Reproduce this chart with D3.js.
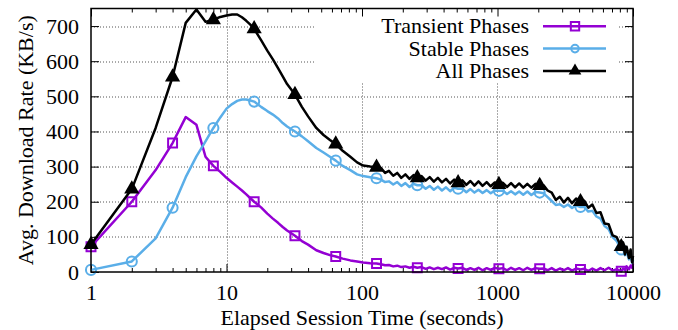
<!DOCTYPE html>
<html>
<head>
<meta charset="utf-8">
<script src="https://cdn.jsdelivr.net/npm/d3@7"></script>
<style>
  body { margin: 0; background: #fff; }
  svg { display: block; font-family: 'Liberation Serif', 'Times New Roman', serif; }
  svg text { font-family: 'Liberation Serif', 'Times New Roman', serif; }
</style>
</head>
<body>
<div id="chart"></div>
<script>
/** Data **/
const times = [
  1, 2, 3, 4, 5, 6, 7, 8, 9, 10, 11, 12, 13, 14, 15, 16, 18, 20, 22, 24, 26, 28,
  32, 36, 40, 46, 52, 58, 64, 72, 82, 92, 102, 115, 128,
  138, 148, 158, 170, 182, 195, 209, 224, 240, 256, 275, 295, 316, 339, 363,
  389, 417, 447, 479, 512, 550, 589, 631, 676, 724, 776, 832, 891, 955, 1024,
  1096, 1175, 1259, 1349, 1445, 1549, 1660, 1778, 1905, 2048, 2188, 2344, 2512,
  2692, 2884, 3090, 3311, 3548, 3802, 4096, 4365, 4677, 5012, 5370, 5754, 6166,
  6607, 7079, 7586, 8192, 8450, 8710, 8970, 9333, 9600, 9850, 10000
];

const transient = [
  72, 200, 290, 367, 441, 419, 328, 302, 285, 268, 255, 243, 232, 221, 210, 200, 184, 166, 152, 140, 128, 118,
  103, 88, 78, 62, 54, 48, 44, 38, 33, 30, 27, 25, 24,
  22, 19, 20, 16, 18, 14, 16, 12, 15, 12, 14, 9, 13, 8, 12,
  8, 13, 7, 12, 10, 12, 6, 11, 6, 12, 5, 11, 6, 12, 9,
  11, 5, 12, 6, 11, 5, 12, 6, 11, 9, 10, 5, 11,
  4, 10, 5, 11, 4, 10, 7, 9, 3, 10, 4, 11, 5,
  12, 4, 8, 2, 10, 6, 16, 8, 18, 12, 24
];

const stable = [
  6, 30, 96, 183, 270, 329, 372, 410, 440, 465, 478, 487, 491, 491, 488, 485, 470, 458, 448, 437, 424, 414,
  400, 386, 372, 353, 340, 328, 317, 302, 290, 278, 273, 270, 267,
  263, 256, 258, 249, 256, 245, 253, 242, 251, 247, 247, 237, 245, 234, 243,
  232, 241, 230, 240, 237, 237, 227, 236, 226, 234, 225, 233, 224, 232, 231,
  231, 222, 230, 221, 229, 220, 229, 219, 228, 226, 224, 213, 202,
  191, 193, 185, 192, 182, 190, 185, 185, 172, 174, 158, 152, 131,
  122, 99, 88, 64, 68, 48, 58, 36, 48, 26, 35
];

const all = [
  78, 236, 410, 555, 709, 747, 712, 718, 726, 730, 733, 733, 725, 715, 704, 692, 660, 630, 605, 580, 557, 535,
  505, 470, 443, 410, 390, 376, 364, 345, 328, 312, 303, 300, 298,
  296, 282, 288, 274, 282, 268, 278, 265, 276, 268, 273, 260, 270, 257, 268,
  255, 265, 252, 263, 254, 261, 248, 259, 246, 258, 245, 256, 244, 255, 249,
  254, 242, 253, 241, 252, 240, 251, 240, 251, 246, 247, 232, 226,
  205, 214, 198, 211, 196, 209, 200, 203, 183, 192, 168, 170, 138,
  136, 104, 99, 72, 84, 50, 72, 40, 64, 28, 46
];

const seriesNames = ['Transient Phases', 'Stable Phases', 'All Phases'];
const seriesColors = ['#9400d3', '#5aaee8', '#000000'];
const seriesShapes = ['square', 'circle', 'triangle'];

const xTicks = [1, 10, 100, 1000, 10000];
const yTicks = [0, 100, 200, 300, 400, 500, 600, 700];

/** Chart setup **/
const serif = "'Liberation Serif', 'Times New Roman', serif";
const width = 678;
const height = 330;
const margin = { top: 8.5, right: 45, bottom: 58, left: 91 };
const innerW = width - margin.left - margin.right;
const innerH = height - margin.top - margin.bottom;

const svg = d3
  .select('#chart')
  .append('svg')
  .attr('width', width)
  .attr('height', height)
  .attr('font-family', serif);

const g = svg
  .append('g')
  .attr('transform', `translate(${margin.left}, ${margin.top})`);

const x = d3.scaleLog().domain([1, 10000]).range([0, innerW]);
const y = d3.scaleLinear().domain([0, 750]).range([innerH, 0]);

// minor ticks 2..9 in every decade
const minorTicks = [];
[1, 10, 100, 1000].forEach((d) => {
  for (let k = 2; k <= 9; k++) minorTicks.push(d * k);
});

/** Grid **/
const grid = g.append('g').attr('stroke', '#555').attr('stroke-width', 1).attr('stroke-dasharray', '1,2');
grid
  .selectAll('line.h')
  .data(yTicks.slice(1))
  .join('line')
  .attr('x1', 0)
  .attr('x2', innerW)
  .attr('y1', (d) => Math.round(y(d)) + 0.5)
  .attr('y2', (d) => Math.round(y(d)) + 0.5);
grid
  .selectAll('line.v')
  .data(xTicks.slice(1, -1))
  .join('line')
  .attr('x1', (d) => Math.round(x(d)) + 0.5)
  .attr('x2', (d) => Math.round(x(d)) + 0.5)
  .attr('y1', 0)
  .attr('y2', innerH);

// legend box hides the grid behind it
g.append('rect')
  .attr('x', 316 - margin.left)
  .attr('y', 0.5)
  .attr('width', 302)
  .attr('height', 74)
  .attr('fill', '#fff');

/** Axes (ticks point inward) **/
function styleAxis(sel) {
  sel.attr('font-family', serif).attr('font-size', 22);
  sel.select('.domain').remove();
  sel.selectAll('line').attr('stroke', '#000').attr('stroke-width', 1);
  sel.selectAll('text').attr('font-family', serif).attr('font-size', 22).attr('fill', '#000');
}

g.append('g')
  .attr('transform', `translate(0, ${innerH})`)
  .call(d3.axisBottom(x).tickValues(xTicks).tickSize(-8).tickPadding(12).tickFormat(d3.format('d')))
  .call(styleAxis);
g.append('g')
  .attr('transform', `translate(0, ${innerH})`)
  .call(d3.axisBottom(x).tickValues(minorTicks).tickSize(-4).tickFormat(''))
  .call(styleAxis);
g.append('g')
  .call(d3.axisTop(x).tickValues(xTicks).tickSize(-8).tickFormat(''))
  .call(styleAxis);
g.append('g')
  .call(d3.axisTop(x).tickValues(minorTicks).tickSize(-4).tickFormat(''))
  .call(styleAxis);
g.append('g')
  .call(d3.axisLeft(y).tickValues(yTicks).tickSize(-8).tickPadding(12))
  .call(styleAxis);
g.append('g')
  .attr('transform', `translate(${innerW}, 0)`)
  .call(d3.axisRight(y).tickValues(yTicks).tickSize(-8).tickFormat(''))
  .call(styleAxis);

/** Lines and markers **/
const seriesValues = [transient, stable, all];
const symbolFor = {
  square: d3.symbolSquare,
  circle: d3.symbolCircle,
  triangle: d3.symbolTriangle,
};

function drawMarker(sel, shape, color, size) {
  const path = sel
    .append('path')
    .attr('d', d3.symbol(symbolFor[shape], size)());
  if (shape === 'triangle') {
    path.attr('fill', color).attr('stroke', 'none');
  } else {
    path.attr('fill', 'none').attr('stroke', color).attr('stroke-width', 2);
  }
  return path;
}

const line = d3
  .line()
  .x((d) => x(d[0]))
  .y((d) => y(d[1]));

seriesValues.forEach((vals, i) => {
  const pts = times.map((t, j) => [t, vals[j]]);
  g.append('path')
    .datum(pts)
    .attr('fill', 'none')
    .attr('stroke', seriesColors[i])
    .attr('stroke-width', 2.5)
    .attr('stroke-linejoin', 'round')
    .attr('d', line);

  const marks = pts.filter((d) => Number.isInteger(Math.log2(d[0])));
  marks.forEach((d) => {
    const m = g.append('g').attr('transform', `translate(${x(d[0])}, ${y(d[1])})`);
    drawMarker(m, seriesShapes[i], seriesColors[i], seriesShapes[i] === 'triangle' ? 100 : 80);
  });
});

/** Frame **/
g.append('rect')
  .attr('x', 0)
  .attr('y', 0)
  .attr('width', innerW)
  .attr('height', innerH)
  .attr('fill', 'none')
  .attr('stroke', '#000')
  .attr('stroke-width', 1.5);

/** Legend **/
const legend = svg.append('g');
seriesNames.forEach((name, i) => {
  const cy = 26.3 + i * 22.3;
  legend
    .append('text')
    .attr('x', 529)
    .attr('y', cy + 7)
    .attr('text-anchor', 'end')
    .attr('font-size', 22)
    .text(name);
  legend
    .append('line')
    .attr('x1', 543)
    .attr('x2', 606)
    .attr('y1', cy)
    .attr('y2', cy)
    .attr('stroke', seriesColors[i])
    .attr('stroke-width', 2.5);
  const m = legend.append('g').attr('transform', `translate(575, ${cy})`);
  drawMarker(m, seriesShapes[i], seriesColors[i], seriesShapes[i] === 'circle' ? 45 : 70);
});

/** Axis titles **/
svg
  .append('text')
  .attr('x', margin.left + innerW / 2)
  .attr('y', 325)
  .attr('text-anchor', 'middle')
  .attr('font-size', 22)
  .text('Elapsed Session Time (seconds)');

svg
  .append('text')
  .attr('transform', `translate(33, ${margin.top + innerH / 2}) rotate(-90)`)
  .attr('text-anchor', 'middle')
  .attr('font-size', 22)
  .text('Avg. Download Rate (KB/s)');
</script>
</body>
</html>
